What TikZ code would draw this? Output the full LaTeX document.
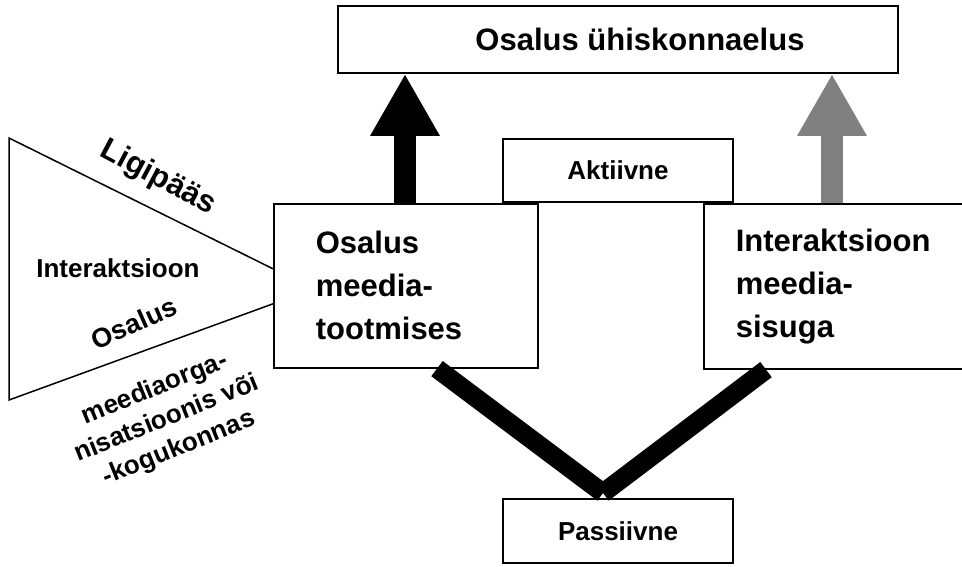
\documentclass[tikz,border=0pt]{standalone}
\usepackage{fontspec}
\setmainfont{Liberation Sans}
\usetikzlibrary{positioning,arrows.meta}

\tikzset{
  box/.style={draw, line width=1.6pt, fill=white, inner sep=0pt,
    font=\bfseries\fontsize{26}{30}\selectfont},
  textbox/.style={box, anchor=north west, align=left, minimum height=164pt,
    font=\bfseries\fontsize{31}{43}\selectfont},
  trilbl/.style={inner sep=0pt, align=center,
    font=\bfseries\fontsize{26}{32}\selectfont},
  bigarrow/.style={line width=22pt, -{Triangle[width=65pt,length=62pt]}},
  vbar/.style={line width=19pt},
}

\begin{document}
\begin{tikzpicture}[x=1pt, y=-1pt]
\useasboundingbox (0,0) rectangle (962,566);

\node[box, minimum width=560pt, minimum height=67pt,
  font=\bfseries\fontsize{31}{36}\selectfont] (soc) at (618,39.5)
  {\hspace*{44pt}Osalus ühiskonnaelus};
\node[box, minimum width=230pt, minimum height=63pt] (act) at (618,170.5) {Aktiivne};
\node[textbox, inner xsep=42pt, text width=180pt] (prod) at (273,203)
  {Osalus\\meedia-\\tootmises};
\node[textbox, inner xsep=32pt, text width=199pt, minimum height=165pt] (inter) at (703,203)
  {Interaktsioon\\meedia-\\sisuga};
\node[box, minimum width=230pt, minimum height=64pt] (pass) at (618,531) {Passiivne};

\draw[bigarrow] (prod.north -| 405,0) -- (soc.south -| 405,0);
\draw[bigarrow, gray] (inter.north -| 832,0) -- (soc.south -| 832,0);

\coordinate (vtip) at (603,493);
\draw[vbar] (prod.south -| 437,0) -- (vtip);
\draw[vbar] (inter.south -| 766,0) -- (vtip);

\coordinate (tritop) at (9,138);
\coordinate (tribot) at (9,400);
\draw[line width=1.5pt] (prod.west) ++(0,-17) -- (tritop) -- (tribot)
  -- ([yshift=-18pt]prod.west);

\node[trilbl, rotate=-28, font=\bfseries\fontsize{31}{36}\selectfont] (acc) at (158,178) {Ligipääs};
\node[trilbl] (interlbl) at (118,268) {Interaktsioon};
\node[trilbl, rotate=24, font=\bfseries\fontsize{27}{32}\selectfont] (partlbl) at (134,323) {Osalus};
\node[trilbl, rotate=22] (orglbl) at (167,419)
  {meediaorga-\\nisatsioonis või\\-kogukonnas};
\end{tikzpicture}
\end{document}
